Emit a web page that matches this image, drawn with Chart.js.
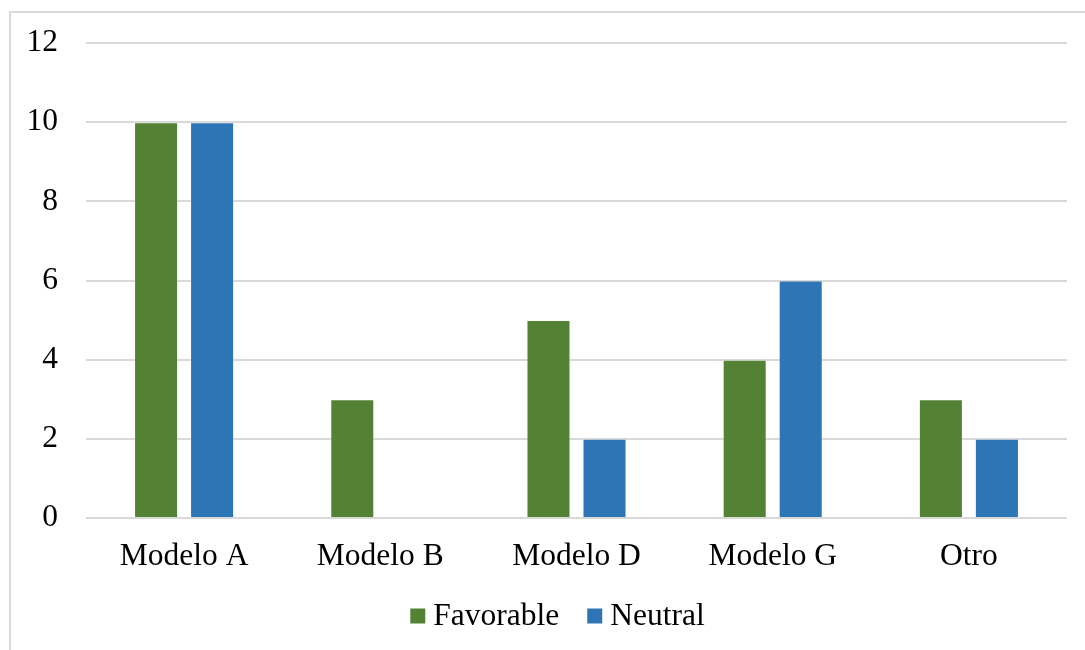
<!DOCTYPE html>
<html>
<head>
<meta charset="utf-8">
<script src="https://cdn.jsdelivr.net/npm/chart.js@4.4.1/dist/chart.umd.min.js"></script>
<style>
  html, body { margin: 0; padding: 0; background: #ffffff; }
  #wrap { width: 1085px; height: 650px; position: relative; }
</style>
</head>
<body>
<div id="wrap"><canvas id="c" width="1085" height="650"></canvas></div>
<script>
// Categories and series
const categories = ['Modelo A', 'Modelo B', 'Modelo D', 'Modelo G', 'Otro'];
const favorable = [10, 3, 5, 4, 3];
const neutral = [10, 0, 2, 6, 2];
const seriesNames = ['Favorable', 'Neutral'];
const yTicks = [0, 2, 4, 6, 8, 10, 12];

const GREEN = '#548235';
const BLUE = '#2e75b6';
const GRID = '#d9d9d9';
const FONT = '"Liberation Serif", "Times New Roman", serif';
const FONT_SIZE = 31.5;

// Outer frame around the chart
const framePlugin = {
  id: 'frame',
  beforeDraw(chart) {
    const ctx = chart.ctx;
    ctx.save();
    ctx.fillStyle = '#ffffff';
    ctx.fillRect(0, 0, chart.width, chart.height);
    ctx.strokeStyle = GRID;
    ctx.lineWidth = 2;
    ctx.strokeRect(10, 12, chart.width + 40, chart.height + 40);
    ctx.restore();
  }
};

// Legend drawn beneath the axis: small square, tight gap, label
const bottomLegend = {
  id: 'bottomLegend',
  afterDraw(chart) {
    const ctx = chart.ctx;
    ctx.save();
    ctx.font = FONT_SIZE + 'px ' + FONT;
    ctx.textBaseline = 'middle';
    ctx.textAlign = 'left';
    const box = 15, gap = 8, itemGap = 28;
    const items = chart.data.datasets.map(ds => ({
      label: ds.label, color: ds.backgroundColor,
      w: box + gap + ctx.measureText(ds.label).width
    }));
    const total = items.reduce((s, it) => s + it.w, 0) + itemGap * (items.length - 1);
    let x = 557.5 - total / 2;
    const cy = 616;
    items.forEach(it => {
      ctx.fillStyle = it.color;
      ctx.fillRect(x, cy - box / 2, box, box);
      ctx.fillStyle = '#000000';
      ctx.fillText(it.label, x + box + gap, cy + 1);
      x += it.w + itemGap;
    });
    ctx.restore();
  }
};

new Chart(document.getElementById('c'), {
  type: 'bar',
  data: {
    labels: categories,
    datasets: [
      { label: seriesNames[0], data: favorable, backgroundColor: GREEN,
        borderColor: 'rgba(255,255,255,0.25)', borderWidth: 1, borderSkipped: 'bottom' },
      { label: seriesNames[1], data: neutral, backgroundColor: BLUE,
        borderColor: 'rgba(255,255,255,0.25)', borderWidth: 1, borderSkipped: 'bottom' }
    ]
  },
  options: {
    responsive: false,
    animation: false,
    devicePixelRatio: 1,
    layout: { padding: { left: 0, right: 18, top: 43, bottom: 62 } },
    datasets: { bar: { categoryPercentage: 0.571, barPercentage: 0.786 } },
    plugins: {
      legend: { display: false },
      tooltip: { enabled: false }
    },
    scales: {
      x: {
        grid: { display: false, drawTicks: false },
        border: { display: false },
        ticks: { color: '#000000', font: { family: FONT, size: FONT_SIZE }, padding: 20, maxRotation: 0 },
        afterFit(scale) { scale.height = 70; scale.paddingLeft = 0; scale.paddingRight = 0; }
      },
      y: {
        min: 0, max: 12,
        afterBuildTicks(scale) { scale.ticks = yTicks.map(v => ({ value: v })); },
        grid: { color: GRID, lineWidth: 2, drawTicks: false },
        border: { display: false },
        ticks: { color: '#000000', font: { family: FONT, size: FONT_SIZE }, padding: 28 },
        afterFit(scale) { scale.width = 86; scale.paddingTop = 0; scale.paddingBottom = 0; }
      }
    }
  },
  plugins: [framePlugin, bottomLegend]
});
</script>
</body>
</html>
